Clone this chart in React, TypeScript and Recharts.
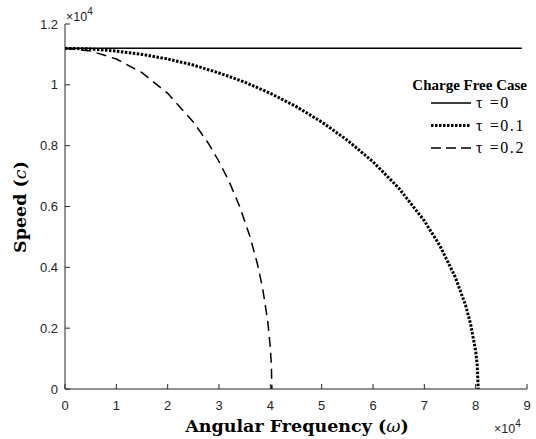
import React from 'react'
import { LineChart, Line, XAxis, YAxis, Legend } from 'recharts'

// omega in units of 1e4, speed in units of 1e4
const xTicks = [0, 1, 2, 3, 4, 5, 6, 7, 8, 9]
const yTicks = [0, 0.2, 0.4, 0.6, 0.8, 1, 1.2]

const tau0 = [
  { w: 0, c: 1.12 },
  { w: 8.9, c: 1.12 },
]

const tau01 = [
  { w: 0, c: 1.12 }, { w: 0.5, c: 1.118 }, { w: 1, c: 1.111 }, { w: 1.5, c: 1.1 },
  { w: 2, c: 1.085 }, { w: 2.5, c: 1.065 }, { w: 3, c: 1.039 }, { w: 3.5, c: 1.009 },
  { w: 4, c: 0.972 }, { w: 4.5, c: 0.929 }, { w: 5, c: 0.878 }, { w: 5.5, c: 0.818 },
  { w: 6, c: 0.747 }, { w: 6.5, c: 0.661 }, { w: 7, c: 0.553 }, { w: 7.3, c: 0.472 },
  { w: 7.6, c: 0.369 }, { w: 7.8, c: 0.277 }, { w: 7.9, c: 0.215 }, { w: 8.0, c: 0.125 },
  { w: 8.03, c: 0.079 }, { w: 8.05, c: 0 },
]

const tau02 = [
  { w: 0, c: 1.12 }, { w: 0.5, c: 1.111 }, { w: 1, c: 1.085 }, { w: 1.5, c: 1.04 },
  { w: 2, c: 0.972 }, { w: 2.5, c: 0.878 }, { w: 2.8, c: 0.806 }, { w: 3, c: 0.748 },
  { w: 3.2, c: 0.681 }, { w: 3.4, c: 0.601 }, { w: 3.6, c: 0.503 }, { w: 3.75, c: 0.41 },
  { w: 3.85, c: 0.331 }, { w: 3.95, c: 0.222 }, { w: 4.0, c: 0.136 }, { w: 4.02, c: 0.079 },
  { w: 4.03, c: 0 },
]

const legendItems = [
  { label: 'τ =0', dash: undefined, width: 1.5 },
  { label: 'τ =0.1', dash: '2.5 1.5', width: 3 },
  { label: 'τ =0.2', dash: '10 5', width: 1.5 },
]

const axisColor = '#262626'
const tickFont = '"Liberation Sans", Arial, sans-serif'
const serif = '"Liberation Serif", "Times New Roman", serif'
const titleFont = '"DejaVu Serif", serif'

const XTick = (props: any) => {
  const { x, y, payload } = props
  return (
    <g>
      <line x1={x} x2={x} y1={y} y2={y - 5} stroke={axisColor} />
      <text x={x} y={y + 21} textAnchor="middle" fontSize={13} fontFamily={tickFont} fill={axisColor}>
        {payload.value}
      </text>
    </g>
  )
}

const YTick = (props: any) => {
  const { x, y, payload } = props
  return (
    <g>
      <line x1={x} x2={x + 5} y1={y} y2={y} stroke={axisColor} />
      <text x={x - 7} y={y + 4.6} textAnchor="end" fontSize={13} fontFamily={tickFont} fill={axisColor}>
        {payload.value}
      </text>
    </g>
  )
}

// legend box is drawn in page coordinates (wrapper sits at 0,0)
const LegendBox = () => (
  <svg width={536} height={170} style={{ display: 'block' }}>
    <text x={527} y={90} textAnchor="end" fontFamily={serif} fontWeight="bold" fontSize={15} fill="#000">
      Charge Free Case
    </text>
    {legendItems.map((it, i) => {
      const cy = 103 + i * 22.5
      return (
        <g key={it.label}>
          <line x1={431} x2={471} y1={cy} y2={cy} stroke="#000" strokeWidth={it.width} strokeDasharray={it.dash} />
          <text x={476} y={cy + 5} fontFamily={serif} fontSize={16} letterSpacing={1.6} fill="#000">
            {it.label}
          </text>
        </g>
      )
    })}
  </svg>
)

export default function App() {
  return (
    <div style={{ position: 'absolute', left: 0, top: 0, width: 536, height: 439, background: '#fff' }}>
      <LineChart width={536} height={439} margin={{ top: 24, right: 9, bottom: 0, left: 0 }}>
        <XAxis
          type="number"
          dataKey="w"
          domain={[0, 9]}
          ticks={xTicks}
          height={50}
          tickSize={0}
          tickMargin={0}
          tickLine={false}
          tick={<XTick />}
          stroke={axisColor}
          allowDataOverflow
        />
        <YAxis
          type="number"
          dataKey="c"
          domain={[0, 1.2]}
          ticks={yTicks}
          width={65}
          tickSize={0}
          tickMargin={0}
          tickLine={false}
          tick={<YTick />}
          stroke={axisColor}
        />
        <Legend
          layout="vertical"
          align="center"
          verticalAlign="middle"
          content={<LegendBox />}
          wrapperStyle={{ position: 'absolute', left: 0, top: 0, width: 536, height: 170 }}
        />
        <Line data={tau0} dataKey="c" stroke="#000" strokeWidth={1.5} dot={false} isAnimationActive={false} />
        <Line data={tau01} dataKey="c" stroke="#000" strokeWidth={3} strokeDasharray="2.5 1.5" dot={false} isAnimationActive={false} />
        <Line data={tau02} dataKey="c" stroke="#000" strokeWidth={1.5} strokeDasharray="10 6" dot={false} isAnimationActive={false} />
      </LineChart>
      <svg width={536} height={439} style={{ position: 'absolute', left: 0, top: 0, pointerEvents: 'none' }}>
        <text x={66} y={20.5} fontFamily={tickFont} fontSize={12.5} fill={axisColor}>
          ×10<tspan fontSize={10} dy={-6}>4</tspan>
        </text>
        <text x={494} y={433} fontFamily={tickFont} fontSize={12.5} fill={axisColor}>
          ×10<tspan fontSize={10} dy={-6}>4</tspan>
        </text>
        <text x={297} y={431.5} textAnchor="middle" fontFamily={titleFont} fontWeight="bold" fontSize={17.5} fill="#000">
          Angular Frequency (<tspan fontStyle="italic" fontWeight="normal">ω</tspan>)
        </text>
        <text
          x={0}
          y={0}
          transform="translate(26 207) rotate(-90)"
          textAnchor="middle"
          fontFamily={titleFont}
          fontWeight="bold"
          fontSize={17.5}
          fill="#000"
        >
          Speed (<tspan fontStyle="italic" fontWeight="normal">c</tspan>)
        </text>
      </svg>
    </div>
  )
}
